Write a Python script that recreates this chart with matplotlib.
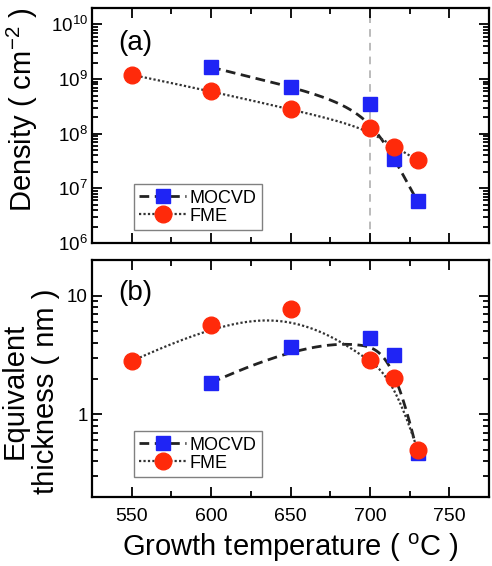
import numpy as np
import matplotlib
matplotlib.use("Agg")
import matplotlib.pyplot as plt
from matplotlib.ticker import FixedLocator, LogLocator, NullFormatter, MultipleLocator

plt.rcParams['font.family'] = ['Liberation Sans', 'DejaVu Sans']
plt.rcParams['mathtext.fontset'] = 'custom'
plt.rcParams['mathtext.rm'] = 'Liberation Sans'
plt.rcParams['mathtext.it'] = 'Liberation Sans:italic'
plt.rcParams['mathtext.bf'] = 'Liberation Sans:bold'

# ---------------- data ----------------
T_mocvd = [600, 650, 700, 715, 730]
T_fme = [550, 600, 650, 700, 715, 730]

density_mocvd = [1.65e9, 7.2e8, 3.5e8, 3.5e7, 5.8e6]
density_fme = [1.2e9, 6.0e8, 2.8e8, 1.27e8, 5.7e7, 3.3e7]

thick_mocvd = [1.84, 3.7, 4.36, 3.13, 0.47]
thick_fme = [2.8, 5.65, 7.7, 2.86, 2.03, 0.50]

xticks = [550, 600, 650, 700, 750]
density_ticks = [1e6, 1e7, 1e8, 1e9, 1e10]
density_ticklabels = [r'$10^{6}$', r'$10^{7}$', r'$10^{8}$', r'$10^{9}$', r'$10^{10}$']
thick_ticks = [1, 10]
thick_ticklabels = ['1', '10']
marker_line = 700

blue = '#1f24f5'
red = '#ff2a0a'


def bspline(cx, cy, k=3, num=300):
    """Clamped B-spline using the points as control points (x linear, y log)."""
    cx = np.asarray(cx, float)
    cy = np.log10(np.asarray(cy, float))
    n = len(cx)
    k = min(k, n - 1)
    inner = np.linspace(0, 1, n - k + 1)
    t = np.concatenate([np.zeros(k), inner, np.ones(k)])
    u = np.linspace(0, 1 - 1e-9, num)

    def basis(i, p):
        if p == 0:
            return np.where((t[i] <= u) & (u < t[i + 1]), 1.0, 0.0)
        a = np.zeros_like(u)
        b = np.zeros_like(u)
        if t[i + p] != t[i]:
            a = (u - t[i]) / (t[i + p] - t[i]) * basis(i, p - 1)
        if t[i + p + 1] != t[i + 1]:
            b = (t[i + p + 1] - u) / (t[i + p + 1] - t[i + 1]) * basis(i + 1, p - 1)
        return a + b

    B = np.array([basis(i, k) for i in range(n)])
    xs = B.T @ cx
    ys = B.T @ cy
    return xs, 10 ** ys


fig = plt.figure(figsize=(4.92, 5.66), dpi=100)
L, R = 92 / 492, 489 / 492
ax1 = fig.add_axes([L, 1 - 243 / 566, R - L, (243 - 8) / 566])
ax2 = fig.add_axes([L, 1 - 497 / 566, R - L, (497 - 260) / 566])

for ax in (ax1, ax2):
    ax.set_yscale('log')
    ax.set_xlim(525, 775)
    ax.xaxis.set_major_locator(FixedLocator(xticks))
    ax.xaxis.set_minor_locator(MultipleLocator(25))
    ax.tick_params(which='both', direction='in', top=True, right=True, width=1.3)
    ax.tick_params(which='major', length=7)
    ax.tick_params(which='minor', length=4)
    ax.tick_params(axis='x', labelsize=14, pad=8)
    ax.tick_params(axis='y', labelsize=13.5, pad=3)
    for s in ax.spines.values():
        s.set_linewidth(1.6)
    ax.yaxis.set_minor_locator(LogLocator(base=10, subs=np.arange(2, 10), numticks=20))
    ax.yaxis.set_minor_formatter(NullFormatter())

dash_style = (0, (3.5, 2))
dot_style = (0, (1, 1))

# legend proxies
h1 = plt.Line2D([], [], color='#222222', lw=2, ls=dash_style, marker='s', ms=10.5, mfc=blue, mec=blue)
h2 = plt.Line2D([], [], color='#333333', lw=1.6, ls=dot_style, marker='o', ms=12, mfc=red, mec=red)


def add_legend(ax, y0):
    leg = ax.legend([h1, h2], ['MOCVD', 'FME'], loc='lower left', bbox_to_anchor=(0.105, y0),
                    borderaxespad=0, fontsize=13, handlelength=2.6, handletextpad=0.2,
                    labelspacing=0.05, borderpad=0.3, fancybox=False, framealpha=1)
    leg.get_frame().set_edgecolor('#808080')
    leg.get_frame().set_linewidth(1.0)


# ---- panel (a) ----
ax1.axvline(marker_line, color='#a8a8a8', lw=1.1, ls=(0, (5, 4)), zorder=1)
xs, ys = bspline(T_mocvd, density_mocvd)
ax1.plot(xs, ys, color='#222222', lw=2, ls=dash_style, zorder=2)
xs, ys = bspline(T_fme, density_fme)
ax1.plot(xs, ys, color='#333333', lw=1.6, ls=dot_style, zorder=2)
ax1.plot(T_mocvd, density_mocvd, ls='none', marker='s', ms=10.5, color=blue, mec=blue, zorder=3)
ax1.plot(T_fme, density_fme, ls='none', marker='o', ms=12, color=red, mec=red, zorder=4)
ax1.set_ylim(1e6, 2e10)
ax1.yaxis.set_major_locator(FixedLocator(density_ticks))
ax1.set_yticklabels(density_ticklabels)
ax1.set_xticklabels([])
ax1.text(0.065, 0.85, '(a)', transform=ax1.transAxes, fontsize=20, va='center', ha='left')
add_legend(ax1, 0.055)

# ---- panel (b) ----
xs, ys = bspline(T_mocvd, thick_mocvd)
ax2.plot(xs, ys, color='#222222', lw=2, ls=dash_style, zorder=2)
xs, ys = bspline(T_fme, thick_fme)
ax2.plot(xs, ys, color='#333333', lw=1.6, ls=dot_style, zorder=2)
ax2.plot(T_mocvd, thick_mocvd, ls='none', marker='s', ms=10.5, color=blue, mec=blue, zorder=3)
ax2.plot(T_fme, thick_fme, ls='none', marker='o', ms=12, color=red, mec=red, zorder=4)
ax2.set_ylim(0.2, 20)
ax2.yaxis.set_major_locator(FixedLocator(thick_ticks))
ax2.set_yticklabels(thick_ticklabels)
ax2.text(0.065, 0.86, '(b)', transform=ax2.transAxes, fontsize=20, va='center', ha='left')
add_legend(ax2, 0.084)
ax2.set_xlabel(r'Growth temperature ( $^{\mathrm{o}}$C )', fontsize=21, labelpad=5)

# y labels
fig.text(22 / 492, 1 - 110 / 566, r'Density ( cm$^{-2}$ )', rotation=90, fontsize=21,
         ha='center', va='center')
fig.text(46 / 492, 1 - 391 / 566, 'thickness ( nm )', rotation=90, fontsize=21,
         ha='center', va='center')
fig.text(15 / 492, 1 - 391 / 566, 'Equivalent', rotation=90, fontsize=21,
         ha='center', va='center')

fig.savefig('out.png', dpi=100)
